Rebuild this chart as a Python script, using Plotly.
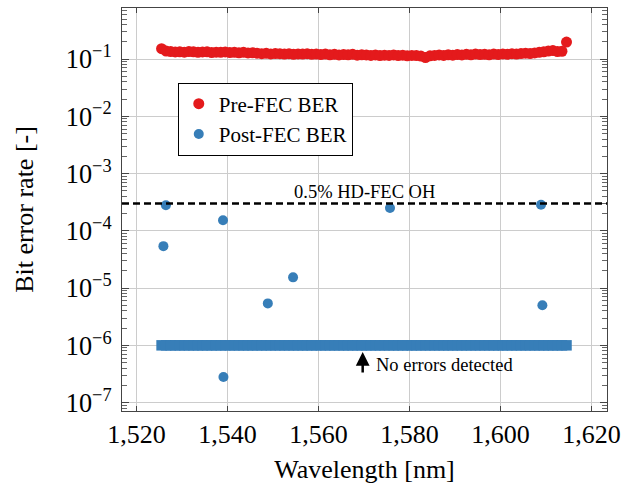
import plotly.graph_objects as go
import numpy as np

# ---------------- data ----------------
wavelength_nm = [
    1525.5, 1526.5, 1527.5, 1528.5, 1529.5, 1530.5, 1531.5, 1532.5, 1533.5, 1534.5,
    1535.5, 1536.5, 1537.5, 1538.5, 1539.5, 1540.5, 1541.5, 1542.5, 1543.5, 1544.5,
    1545.5, 1546.5, 1547.5, 1548.5, 1549.5, 1550.5, 1551.5, 1552.5, 1553.5, 1554.5,
    1555.5, 1556.5, 1557.5, 1558.5, 1559.5, 1560.5, 1561.5, 1562.5, 1563.5, 1564.5,
    1565.5, 1566.5, 1567.5, 1568.5, 1569.5, 1570.5, 1571.5, 1572.5, 1573.5, 1574.5,
    1575.5, 1576.5, 1577.5, 1578.5, 1579.5, 1580.5, 1581.5, 1582.5, 1583.5, 1584.5,
    1585.5, 1586.5, 1587.5, 1588.5, 1589.5, 1590.5, 1591.5, 1592.5, 1593.5, 1594.5,
    1595.5, 1596.5, 1597.5, 1598.5, 1599.5, 1600.5, 1601.5, 1602.5, 1603.5, 1604.5,
    1605.5, 1606.5, 1607.5, 1608.5, 1609.5, 1610.5, 1611.5, 1612.5, 1613.5, 1614.5,
]

pre_fec_ber = [
    0.152, 0.138, 0.135, 0.133, 0.134, 0.132, 0.135, 0.134, 0.131, 0.133,
    0.134, 0.130, 0.132, 0.131, 0.133, 0.130, 0.131, 0.129, 0.131, 0.128,
    0.129, 0.127, 0.124, 0.126, 0.123, 0.125, 0.124, 0.122, 0.124, 0.121,
    0.123, 0.122, 0.124, 0.121, 0.122, 0.120, 0.122, 0.119, 0.121, 0.118,
    0.120, 0.119, 0.121, 0.117, 0.119, 0.118, 0.116, 0.118, 0.115, 0.117,
    0.116, 0.118, 0.115, 0.117, 0.114, 0.116, 0.115, 0.113, 0.106, 0.114,
    0.116, 0.118, 0.116, 0.119, 0.117, 0.120, 0.118, 0.121, 0.119, 0.122,
    0.120, 0.121, 0.119, 0.122, 0.120, 0.123, 0.121, 0.124, 0.122, 0.125,
    0.127, 0.125, 0.128, 0.131, 0.134, 0.138, 0.141, 0.135, 0.137, 0.198,
]

# channels where post-FEC errors were counted
post_fec_wavelength_nm = [1525.9, 1526.45, 1539.0, 1539.1, 1548.85, 1554.4, 1575.7, 1608.9, 1609.2]
post_fec_ber = [5.4e-5, 2.8e-4, 1.53e-4, 2.8e-7, 5.4e-6, 1.54e-5, 2.5e-4, 2.85e-4, 5.0e-6]

# channels with no errors detected are plotted at this floor value
no_error_floor = 1e-6
no_error_ber = [no_error_floor] * len(wavelength_nm)

hd_fec_threshold = 3.0e-4
x_ticks = [1520, 1540, 1560, 1580, 1600, 1620]

# ---------------- style ----------------
RED = "#E41A1C"
BLUE = "#377EB8"
FONT = "Liberation Serif"
GRID = "#cccccc"
AXIS = "#444444"

fig = go.Figure()

fig.add_trace(go.Scatter(
    x=wavelength_nm, y=pre_fec_ber, mode="markers", name="Pre-FEC BER",
    marker=dict(color=RED, size=11, symbol="circle", line=dict(width=0)),
))
fig.add_trace(go.Scatter(
    x=wavelength_nm, y=no_error_ber, mode="markers", name="Post-FEC BER",
    legendgroup="post", showlegend=False,
    marker=dict(color=BLUE, size=10.5, symbol="square", line=dict(width=0)),
))
fig.add_trace(go.Scatter(
    x=post_fec_wavelength_nm, y=post_fec_ber, mode="markers", name="Post-FEC BER",
    legendgroup="post",
    marker=dict(color=BLUE, size=10, symbol="circle", line=dict(width=0)),
))

fig.add_shape(type="line", xref="paper", x0=0, x1=1, yref="y",
              y0=hd_fec_threshold, y1=hd_fec_threshold,
              line=dict(color="black", width=2.5, dash="7px,4px"))

fig.add_annotation(x=1570, y=np.log10(hd_fec_threshold), xref="x", yref="y",
                   text="0.5% HD-FEC OH", showarrow=False, yanchor="bottom", yshift=0,
                   font=dict(family=FONT, size=18.5, color="black"))

fig.add_annotation(x=1569.7, y=np.log10(no_error_floor) - 0.115, xref="x", yref="y",
                   text="", showarrow=True, ax=0, ay=22, axref="pixel", ayref="pixel",
                   arrowhead=2, arrowsize=1.1, arrowwidth=2.5, arrowcolor="black")

fig.add_annotation(x=1572.2, y=np.log10(no_error_floor) - 0.347, xref="x", yref="y",
                   text="No errors detected", showarrow=False, xanchor="left", yanchor="middle",
                   font=dict(family=FONT, size=18.5, color="black"))

fig.update_layout(
    width=629, height=484,
    margin=dict(l=122, r=22, t=8, b=73, autoexpand=False),
    paper_bgcolor="white", plot_bgcolor="white",
    font=dict(family=FONT, size=26, color="black"),
    showlegend=True,
    legend=dict(x=0.115, y=0.815, xanchor="left", yanchor="top",
                bgcolor="white", bordercolor="black", borderwidth=1,
                font=dict(family=FONT, size=21, color="black"),
                tracegroupgap=0),
    xaxis=dict(
        range=[1516.8, 1623.4], tickmode="array", tickvals=x_ticks,
        ticktext=[f"{v:,}" for v in x_ticks], automargin=False,
        showgrid=True, gridcolor=GRID, gridwidth=1, zeroline=False,
        showline=True, linecolor=AXIS, linewidth=1.3, mirror="ticks",
        ticks="inside", ticklen=5, tickcolor=AXIS,
        tickfont=dict(family=FONT, size=26, color="black"),
        title=dict(text="Wavelength [nm]", font=dict(family=FONT, size=26, color="black"), standoff=14),
    ),
    yaxis=dict(
        type="log", range=[-7.147, -0.108], dtick=1, exponentformat="power",
        automargin=False, ticklabelstandoff=5,
        showgrid=True, gridcolor=GRID, gridwidth=1, zeroline=False,
        showline=True, linecolor=AXIS, linewidth=1.3, mirror="ticks",
        ticks="inside", ticklen=7, tickcolor=AXIS,
        minor=dict(ticks="inside", ticklen=5, tickcolor="#666666", dtick="D1", showgrid=False),
        tickfont=dict(family=FONT, size=21, color="black"),
        title=dict(text="Bit error rate [-]", font=dict(family=FONT, size=26, color="black"), standoff=24),
    ),
)

# remove the browser's default 8px page margin so the figure sits at the window origin
fig.write_html("out.html", config={"displayModeBar": False},
               post_script="document.body.style.margin='0px';")
